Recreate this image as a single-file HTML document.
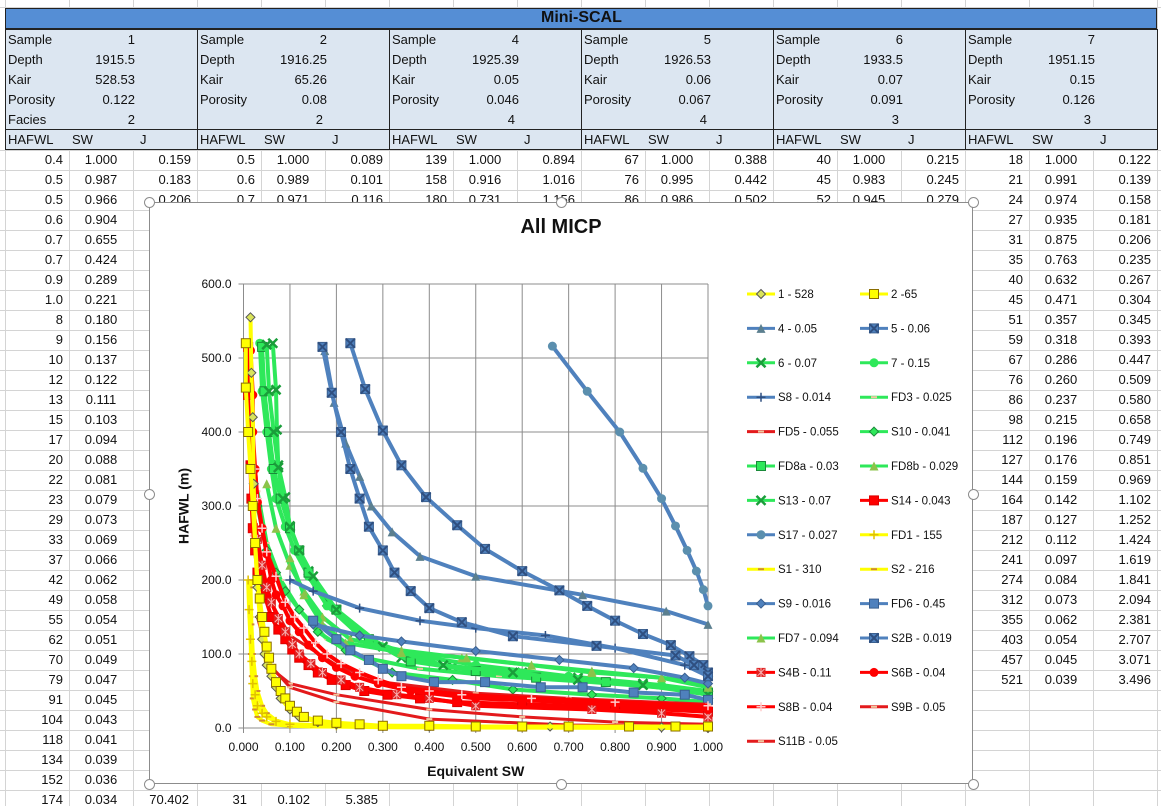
<!DOCTYPE html>
<html><head><meta charset="utf-8">
<style>
body{margin:0;width:1161px;height:806px;overflow:hidden;background:#fff;font-family:"Liberation Sans",Arial,sans-serif;position:relative}
.c{position:absolute;font-size:13px;line-height:20px;white-space:nowrap;color:#111}
#chart{position:absolute;left:149px;top:202px;width:824px;height:582px;background:#fff;border:1px solid #8c8c8c;box-sizing:border-box}
.hd{position:absolute;width:9px;height:9px;border:1px solid #8c8c8c;border-radius:50%;background:#fff;margin:-5px 0 0 -5px}
</style></head>
<body>
<div id="sheet" style="position:absolute;left:0;top:0;width:1161px;height:806px"></div>
<div id="chart">
<svg id="svg" width="824" height="582" style="position:absolute;left:-1px;top:-1px;font-family:'Liberation Sans',Arial,sans-serif"></svg>
</div>
<div id="handles"></div>
<script>
// ===== spreadsheet data =====
const blockStarts=[5,197,389,581,773,965];
const sampleIds=["1","2","4","5","6","7"];
const depths=["1915.5","1916.25","1925.39","1926.53","1933.5","1951.15"];
const kairs=["528.53","65.26","0.05","0.06","0.07","0.15"];
const porosities=["0.122","0.08","0.046","0.067","0.091","0.126"];
const facies=["2","2","4","4","3","3"];
const col1H=["0.4","0.5","0.5","0.6","0.7","0.7","0.9","1.0","8","9","10","12","13","15","17","20","22","23","29","33","37","42","49","55","62","70","79","91","104","118","134","152","174"];
const col1S=["1.000","0.987","0.966","0.904","0.655","0.424","0.289","0.221","0.180","0.156","0.137","0.122","0.111","0.103","0.094","0.088","0.081","0.079","0.073","0.069","0.066","0.062","0.058","0.054","0.051","0.049","0.047","0.045","0.043","0.041","0.039","0.036","0.034"];
const col1J=["0.159","0.183","0.206"];
const midRows=[[["0.5","1.000","0.089"],["0.6","0.989","0.101"],["0.7","0.971","0.116"]],[["139","1.000","0.894"],["158","0.916","1.016"],["180","0.731","1.156"]],[["67","1.000","0.388"],["76","0.995","0.442"],["86","0.986","0.502"]],[["40","1.000","0.215"],["45","0.983","0.245"],["52","0.945","0.279"]]];
const b7H=["18","21","24","27","31","35","40","45","51","59","67","76","86","98","112","127","144","164","187","212","241","274","312","355","403","457","521"];
const b7S=["1.000","0.991","0.974","0.935","0.875","0.763","0.632","0.471","0.357","0.318","0.286","0.260","0.237","0.215","0.196","0.176","0.159","0.142","0.127","0.112","0.097","0.084","0.073","0.062","0.054","0.045","0.039"];
const b7J=["0.122","0.139","0.158","0.181","0.206","0.235","0.267","0.304","0.345","0.393","0.447","0.509","0.580","0.658","0.749","0.851","0.969","1.102","1.252","1.424","1.619","1.841","2.094","2.381","2.707","3.071","3.496"];

const sheet=document.getElementById('sheet');
function box(l,t,w,h,css){const d=document.createElement('div');d.style.cssText='position:absolute;left:'+l+'px;top:'+t+'px;width:'+w+'px;height:'+h+'px;'+(css||'');sheet.appendChild(d);return d;}
function txt(s,x,y,align,css){const d=document.createElement('div');d.className='c';d.textContent=s;
 if(align==='r'){d.style.right=(1161-x)+'px';}else if(align==='c'){d.style.left=(x-40)+'px';d.style.width='80px';d.style.textAlign='center';}else{d.style.left=x+'px';}
 d.style.top=(y-10)+'px';if(css)d.style.cssText+=css;sheet.appendChild(d);return d;}
for(let y=150;y<=806;y+=20){const g=box(0,y,1161,1,'background:#d4d4d4');}
box(0,7,1161,1,'background:#d4d4d4');
for(let b=0;b<6;b++){for(let k=0;k<3;k++){const x=blockStarts[b]+k*64;const g=box(x,0,1,806,'background:#d4d4d4');}}
box(1157,0,1,806,'background:#d4d4d4');
const bar=box(5,8,1152,21,'background:#558ed5;border:1px solid #222;box-sizing:border-box');


const tt=txt('Mini-SCAL',581,18,'c','font-weight:bold;font-size:16px;color:#111');


for(let b=0;b<6;b++){
 const s=blockStarts[b];
 const info=box(s,29,193,101,'background:#dce6f1;border:1px solid #222;box-sizing:border-box;z-index:1');
 
 
 const hr=box(s,129,193,21,'background:#dce6f1;border:1px solid #222;box-sizing:border-box;z-index:1');
 
 
 const labels=['Sample','Depth','Kair','Porosity',b===0?'Facies':''];
 const vals=[sampleIds[b],depths[b],kairs[b],porosities[b],facies[b]];
 for(let i=0;i<5;i++){const l=txt(labels[i],s+3,40+20*i,'l','z-index:2');
  const v=txt(vals[i],s+(i===4&&b>0?126:130),40+20*i,'r','z-index:2');}
 const a=txt('HAFWL',s+3,140,'l','z-index:2');
 const c=txt('SW',s+67,140,'l','z-index:2');
 const j=txt('J',s+135,140,'l','z-index:2');
}
function row(b,i,h,s,j){const x=blockStarts[b];const y=160+20*i;
 if(h!=null){const e=txt(h,x+58,y,'r');}
 if(s!=null){const e=txt(s,x+96,y,'c');}
 if(j!=null){const e=txt(j,x+186,y,'r');}}
for(let i=0;i<col1H.length;i++)row(0,i,col1H[i],col1S[i],i<3?col1J[i]:null);
for(let b=1;b<5;b++)for(let i=0;i<3;i++)row(b,i,midRows[b-1][i][0],midRows[b-1][i][1],midRows[b-1][i][2]);
for(let i=0;i<b7H.length;i++)row(5,i,b7H[i],b7S[i],b7J[i]);
const bottomVals=[["70.402",189],["31",247],["0.102",310],["5.385",378]];
for(const bv of bottomVals){const e=txt(bv[0],bv[1],800,'r');}

// ===== chart data =====
const xTicks=[0,0.1,0.2,0.3,0.4,0.5,0.6,0.7,0.8,0.9,1.0];
const yTicks=[0,100,200,300,400,500,600];
const seriesNames=["1 - 528","2  -65","4 - 0.05","5 - 0.06","6 - 0.07","7 - 0.15","S8 - 0.014","FD3 - 0.025","FD5 - 0.055","S10 - 0.041","FD8a - 0.03","FD8b - 0.029","S13 - 0.07","S14 - 0.043","S17 - 0.027","FD1 - 155","S1 - 310","S2 - 216","S9 - 0.016","FD6 - 0.45","FD7 - 0.094","S2B - 0.019","S4B - 0.11","S6B - 0.04","S8B - 0.04","S9B - 0.05","S11B - 0.05"];
const seriesColors=["#ffff00","#ffff00","#4f81bd","#4f81bd","#2ee85a","#2ee85a","#4f81bd","#2ee85a","#e31a1c","#2ee85a","#2ee85a","#2ee85a","#2ee85a","#ff0000","#4f81bd","#ffff00","#ffff00","#ffff00","#4f81bd","#4f81bd","#2ee85a","#4f81bd","#ff0000","#ff0000","#ff0000","#e31a1c","#e31a1c"];
const seriesMarkers=["diamond","square","triangle","xsquare","x","circle","plus","dash","dash","diamond","square","triangle","x","square","circle","plus","dash","dash","diamond","square","triangle","xsquare","star","circle","plus","dash","dash"];
const sw1=[0.015,0.017,0.02,0.022,0.025,0.03,0.035,0.04,0.045,0.05,0.06,0.07,0.08,0.1,0.12,0.16,0.2,0.3,0.4,0.66,0.9,1.0];
const h1=[555,480,420,330,250,190,150,120,100,85,70,55,40,25,15,8,5,3,2,2,1,0];
const sw2=[0.005,0.005,0.01,0.015,0.02,0.025,0.03,0.035,0.04,0.045,0.05,0.055,0.06,0.07,0.08,0.09,0.1,0.115,0.13,0.16,0.2,0.25,0.3,0.4,0.5,0.6,0.7,0.83,0.93,1.0];
const h2=[520,460,400,350,300,250,200,175,150,130,110,95,80,62,50,40,30,22,15,10,7,5,3,3,2,2,2,2,2,2];
const sw4=[0.175,0.195,0.22,0.25,0.275,0.32,0.38,0.5,0.73,0.91,1.0];
const h4=[510,440,385,340,300,265,232,205,180,158,140];
const sw5=[0.23,0.262,0.3,0.34,0.393,0.46,0.52,0.6,0.68,0.74,0.8,0.86,0.92,0.96,0.99,1.0];
const h5=[520,458,402,355,312,274,242,212,186,165,145,127,112,97,85,75];
const sw6=[0.063,0.07,0.072,0.075,0.09,0.1,0.12,0.14,0.18,0.24,0.34,0.45,0.6,0.72,0.86,1.0];
const h6=[520,457,403,355,312,273,240,212,170,130,95,83,75,68,60,45];
const sw7=[0.035,0.04,0.05,0.06,0.07,0.09,0.11,0.14,0.18,0.25,0.35,0.5,0.7,0.9,1.0];
const h7=[520,455,400,350,310,272,240,205,165,125,100,85,70,58,50];
const sw8=[0.1,0.15,0.25,0.38,0.5,0.65,0.8,0.95,1.0];
const h8=[200,185,162,145,135,125,108,85,70];
const swFD3=[0.03,0.05,0.08,0.12,0.18,0.26,0.38,0.55,0.75,1.0];
const hFD3=[320,250,200,160,120,95,80,70,62,50];
const swFD5=[0.02,0.05,0.1,0.2,0.3,0.5,0.7,1.0];
const hFD5=[260,180,125,85,62,47,40,32];
const sw10=[0.03,0.04,0.05,0.07,0.09,0.12,0.16,0.22,0.32,0.45,0.58,0.75,0.9,1.0];
const h10=[300,270,240,210,185,160,130,105,75,65,52,45,40,35];
const swFD8a=[0.04,0.045,0.055,0.065,0.08,0.1,0.12,0.14,0.2,0.27,0.36,0.5,0.63,0.78,1.0];
const hFD8a=[515,455,400,350,310,270,240,210,160,120,90,77,68,62,48];
const swFD8b=[0.05,0.07,0.1,0.13,0.17,0.23,0.34,0.47,0.62,0.75,0.9,1.0];
const hFD8b=[330,270,220,185,150,120,105,95,85,75,68,60];
const sw13=[0.05,0.055,0.065,0.075,0.085,0.1,0.12,0.15,0.2,0.3,0.43,0.58,0.72,0.86,1.0];
const h13=[518,455,400,352,310,272,240,205,160,110,85,75,65,58,45];
const sw14=[0.01,0.01,0.012,0.015,0.017,0.02,0.025,0.03,0.045,0.06,0.075,0.09,0.105,0.12,0.14,0.16,0.19,0.22,0.26,0.31,0.38,0.46,0.6,0.8,1.0];
const h14=[515,450,400,355,310,270,240,210,180,150,133,120,106,95,85,75,65,58,50,45,40,35,32,28,22];
const sw17=[0.665,0.74,0.81,0.86,0.9,0.93,0.955,0.975,0.99,1.0];
const h17=[516,455,400,351,310,273,240,212,187,165];
const swFD1=[0.01,0.012,0.015,0.018,0.02,0.025,0.03,0.04,0.05,0.07,0.1,0.2,0.3,0.6,1.0];
const hFD1=[200,160,120,90,60,45,30,20,15,9,5,3,2,1,0];
const swS1=[0.015,0.017,0.02,0.025,0.03,0.04,0.05,0.07,0.1,0.2,0.3,1.0];
const hS1=[190,140,100,70,50,30,20,10,5,2,1,0];
const swS2=[0.015,0.015,0.016,0.018,0.02,0.025,0.03,0.04,0.06,0.1,0.15,1.0];
const hS2=[200,150,100,70,40,25,15,10,5,3,2,0];
const sw9=[0.15,0.25,0.34,0.5,0.68,0.84,0.95,1.0];
const h9=[140,125,117,104,92,81,68,60];
const swFD6=[0.15,0.2,0.23,0.27,0.3,0.34,0.41,0.52,0.64,0.73,0.84,0.95,1.0];
const hFD6=[145,120,105,92,80,70,62,62,55,55,48,45,38];
const swFD7=[0.1,0.13,0.17,0.22,0.34,0.48,0.62,0.75,0.9,1.0];
const hFD7=[230,180,140,115,102,95,85,77,68,55];
const sw2B=[0.17,0.19,0.21,0.23,0.25,0.27,0.3,0.325,0.36,0.4,0.47,0.58,0.76,0.93,0.97,1.0];
const h2B=[515,453,400,350,310,272,240,210,185,162,143,124,111,98,85,70];
const sw4B=[0.02,0.03,0.04,0.05,0.06,0.075,0.09,0.105,0.12,0.145,0.17,0.21,0.25,0.33,0.4,0.5,0.75,0.9,1.0];
const h4B=[300,255,220,190,170,148,130,113,100,87,75,65,55,45,40,30,25,20,15];
const sw6B=[0.015,0.02,0.02,0.025,0.03,0.04,0.05,0.06,0.07,0.085,0.1,0.12,0.14,0.17,0.2,0.24,0.29,0.36,0.5,0.7,0.85,1.0];
const h6B=[510,450,400,350,305,270,235,200,180,165,145,130,112,95,82,70,60,50,40,35,30,25];
const sw8B=[0.025,0.03,0.04,0.05,0.07,0.09,0.11,0.13,0.155,0.18,0.21,0.25,0.29,0.34,0.4,0.47,0.62,0.8,1.0];
const h8B=[350,310,270,238,205,170,150,135,115,100,87,75,65,55,50,45,40,35,30];
const sw9B=[0.03,0.06,0.1,0.2,0.4,0.6,0.8,1.0];
const h9B=[150,80,60,45,25,15,8,5];
const sw11B=[0.05,0.1,0.2,0.4,0.7,1.0];
const h11B=[90,55,35,12,4,2];
const seriesX=[sw1,sw2,sw4,sw5,sw6,sw7,sw8,swFD3,swFD5,sw10,swFD8a,swFD8b,sw13,sw14,sw17,swFD1,swS1,swS2,sw9,swFD6,swFD7,sw2B,sw4B,sw6B,sw8B,sw9B,sw11B];
const seriesY=[h1,h2,h4,h5,h6,h7,h8,hFD3,hFD5,h10,hFD8a,hFD8b,h13,h14,h17,hFD1,hS1,hS2,h9,hFD6,hFD7,h2B,h4B,h6B,h8B,h9B,h11B];
const drawOrder=[4,5,7,9,10,11,12,20,2,3,6,14,18,19,21,8,25,26,13,22,23,24,17,16,15,0,1];

const OX=243.5-149, OY=728-202, PW=464.5, PH=444;
const xs=v=>OX+v*PW, ys=v=>OY-v/600*PH;
const NS='http://www.w3.org/2000/svg', svg=document.getElementById('svg');
function el(tag,a,parent){const e=document.createElementNS(NS,tag);for(const k in a)e.setAttribute(k,a[k]);(parent||svg).appendChild(e);return e;}
const title=el('text',{x:412,y:31,'text-anchor':'middle','font-size':20,'font-weight':'bold',fill:'#111'});title.textContent='All MICP';


for(const t of xTicks){const g=el('line',{x1:xs(t),x2:xs(t),y1:ys(600),y2:ys(0)+5,stroke:'#8c8c8c','stroke-width':1});
 
 
 const l=el('text',{x:xs(t),y:ys(0)+23,'text-anchor':'middle','font-size':12,fill:'#111'});l.textContent=t.toFixed(3);
 
 }
for(const t of yTicks){const g=el('line',{x1:xs(0)-5,x2:xs(1),y1:ys(t),y2:ys(t),stroke:'#8c8c8c','stroke-width':1});
 
 
 const l=el('text',{x:xs(0)-12,y:ys(t)+4,'text-anchor':'end','font-size':12,fill:'#111'});l.textContent=t.toFixed(1);
 
 }
const xt=el('text',{x:xs(0.5),y:ys(0)+48,'text-anchor':'middle','font-size':14,'font-weight':'bold',fill:'#111'});xt.textContent='Equivalent SW';


const yt=el('text',{x:0,y:0,'text-anchor':'middle','font-size':14,'font-weight':'bold',fill:'#111',transform:'translate('+(OX-55)+','+ys(300)+') rotate(-90)'});yt.textContent='HAFWL (m)';



function marker(g,type,x,y,col){
 const dark=col==='#ffff00'?'#555':(col==='#4f81bd'?'#3a5f8f':'#1a8a3a');
 const s=4.5;
 if(type==='diamond')el('polygon',{points:`${x},${y-s} ${x+s},${y} ${x},${y+s} ${x-s},${y}`,fill:col==='#ffff00'?'#d9e35a':col,stroke:dark,'stroke-width':1},g);
 else if(type==='square'||type==='xsquare'){el('rect',{x:x-s,y:y-s,width:2*s,height:2*s,fill:col,stroke:col==='#ffff00'?'#8a6d00':(col==='#ff0000'?'#d00':dark),'stroke-width':1},g);
  if(type==='xsquare'){el('path',{d:`M${x-s} ${y-s}L${x+s} ${y+s}M${x+s} ${y-s}L${x-s} ${y+s}`,stroke:'#2f4f80','stroke-width':2},g);}}
 else if(type==='triangle')el('polygon',{points:`${x},${y-s} ${x+s},${y+s} ${x-s},${y+s}`,fill:col==='#2ee85a'?'#8bc34a':'#5b7f8f',stroke:'none'},g);
 else if(type==='circle')el('circle',{cx:x,cy:y,r:s,fill:col==='#4f81bd'?'#5b8fae':col,stroke:'none'},g);
 else if(type==='x')el('path',{d:`M${x-s} ${y-s}L${x+s} ${y+s}M${x+s} ${y-s}L${x-s} ${y+s}`,stroke:col==='#2ee85a'?'#1a9e3a':'#c00','stroke-width':2.5},g);
 else if(type==='plus')el('path',{d:`M${x-s} ${y}L${x+s} ${y}M${x} ${y-s}L${x} ${y+s}`,stroke:col==='#ff0000'?'#ffcccc':(col==='#ffff00'?'#e0c000':'#2f4f80'),'stroke-width':1.5},g);
 else if(type==='star'){el('rect',{x:x-s,y:y-s,width:2*s,height:2*s,fill:'#e02020'},g);el('path',{d:`M${x-s+1} ${y-s+1}L${x+s-1} ${y+s-1}M${x+s-1} ${y-s+1}L${x-s+1} ${y+s-1}M${x} ${y-s}L${x} ${y+s}`,stroke:'#f8b0b0','stroke-width':1},g);}
 else if(type==='dash')el('line',{x1:x-3,x2:x+3,y1:y,y2:y,stroke:col==='#ffff00'?'#d08a30':'#f0c8a0','stroke-width':2},g);
}
for(const i of drawOrder){
 const g=el('g',{});
 
 
 const X=seriesX[i],Y=seriesY[i];
 let d='';for(let k=0;k<X.length;k++)d+=(k?'L':'M')+xs(X[k]).toFixed(1)+' '+ys(Y[k]).toFixed(1);
 el('path',{d:d,fill:'none',stroke:seriesColors[i],'stroke-width':(i>=25||i===8)?3:4,'stroke-linejoin':'round'},g);
 for(let k=0;k<X.length;k++)marker(g,seriesMarkers[i],xs(X[k]),ys(Y[k]),seriesColors[i]);
}
const lg=el('g',{});


for(let i=0;i<seriesNames.length;i++){
 const col=i%2,r=Math.floor(i/2);
 const x=747-149+col*113,y=294-202+r*34.4;
 const e=el('g',{},lg);
 
 
 el('line',{x1:x,x2:x+28,y1:y,y2:y,stroke:seriesColors[i],'stroke-width':3},e);
 marker(e,seriesMarkers[i],x+14,y,seriesColors[i]);
 const t=el('text',{x:x+31,y:y+4,'font-size':11.5,fill:'#111'},e);t.textContent=seriesNames[i];
}
const hp=[[149,202],[561,202],[973,202],[149,494],[973,494],[149,784],[561,784],[973,784]];
const hs=document.getElementById('handles');
for(const p of hp){const d=document.createElement('div');d.className='hd';d.style.left=p[0]+'px';d.style.top=p[1]+'px';
 
 
 hs.appendChild(d);}
</script>
</body></html>
